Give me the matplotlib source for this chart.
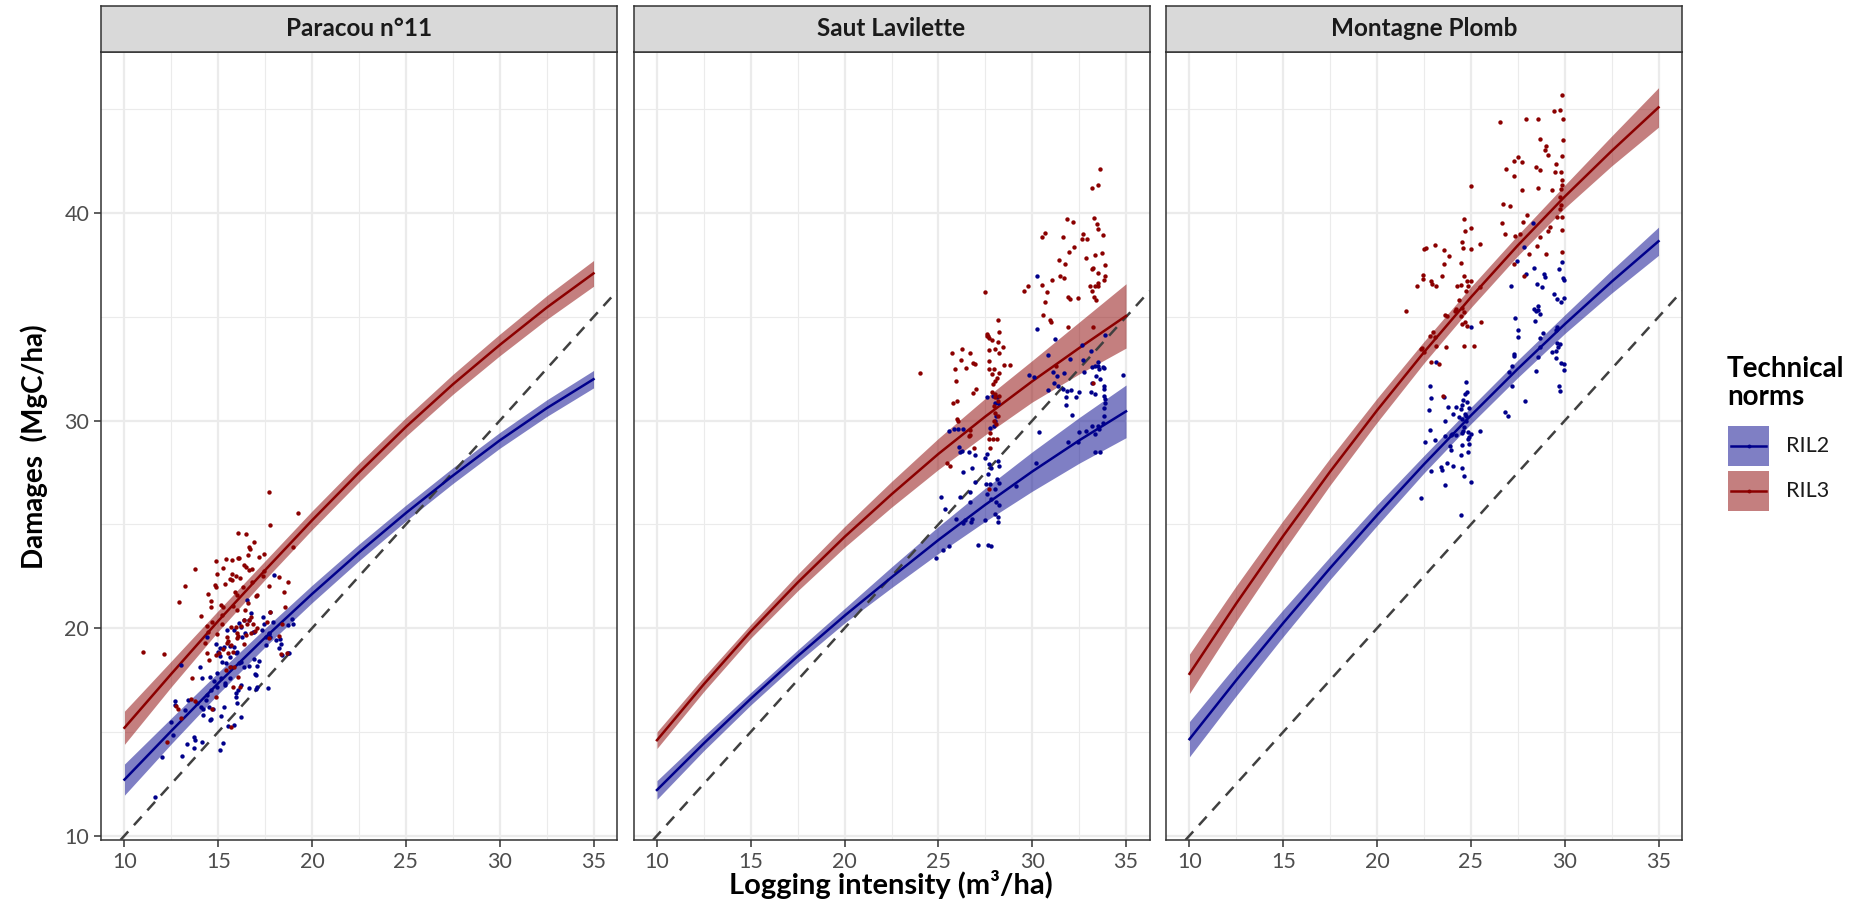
import matplotlib
matplotlib.use("Agg")
import matplotlib.pyplot as plt
from matplotlib.lines import Line2D
from matplotlib.patches import Rectangle

plt.rcParams['font.family'] = ['Lato', 'DejaVu Sans']

# ---------------------------------------------------------------- data
sites = ["Paracou n°11", "Saut Lavilette", "Montagne Plomb"]
norms = ["RIL2", "RIL3"]
norm_colors = {"RIL2": "#00008B", "RIL3": "#8B0000"}

x_ticks = [10, 15, 20, 25, 30, 35]
y_ticks = [10, 20, 30, 40]

# fitted curves (value and half-width of the confidence band) on a common grid
fit_x = [10, 12.5, 15, 17.5, 20, 22.5, 25, 27.5, 30, 32.5, 35]

paracou_ril2_fit = [12.7, 15.05, 17.35, 19.55, 21.65, 23.65, 25.55, 27.35, 29.05, 30.6, 32.0]
paracou_ril2_se = [0.75, 0.62, 0.52, 0.45, 0.42, 0.40, 0.38, 0.38, 0.38, 0.40, 0.42]
paracou_ril3_fit = [15.2, 17.8, 20.35, 22.8, 25.2, 27.5, 29.7, 31.75, 33.65, 35.45, 37.1]
paracou_ril3_se = [0.80, 0.62, 0.50, 0.45, 0.45, 0.45, 0.45, 0.48, 0.52, 0.57, 0.62]

saut_ril2_fit = [12.2, 14.45, 16.6, 18.65, 20.6, 22.45, 24.25, 25.95, 27.55, 29.05, 30.45]
saut_ril2_se = [0.45, 0.35, 0.30, 0.30, 0.35, 0.50, 0.65, 0.80, 0.95, 1.10, 1.27]
saut_ril3_fit = [14.6, 17.3, 19.85, 22.2, 24.4, 26.45, 28.4, 30.2, 31.9, 33.5, 35.05]
saut_ril3_se = [0.40, 0.35, 0.33, 0.40, 0.50, 0.62, 0.75, 0.88, 1.00, 1.25, 1.55]

plomb_ril2_fit = [14.65, 17.5, 20.25, 22.9, 25.45, 27.9, 30.25, 32.5, 34.65, 36.7, 38.65]
plomb_ril2_se = [0.85, 0.75, 0.65, 0.55, 0.50, 0.42, 0.40, 0.42, 0.45, 0.55, 0.68]
plomb_ril3_fit = [17.8, 21.2, 24.45, 27.55, 30.5, 33.3, 35.95, 38.45, 40.8, 43.0, 45.1]
plomb_ril3_se = [0.95, 0.85, 0.75, 0.65, 0.58, 0.52, 0.50, 0.50, 0.55, 0.72, 0.95]

# observed plots: (logging intensity, damages)
paracou_ril2_obs = [
    (17.96, 22.56), (16.54, 21.35), (16.72, 20.71), (17.36, 20.55), (17.78, 20.79), (16.37, 20.39),
    (16.65, 20.39), (16.10, 20.26), (16.19, 20.07), (15.48, 19.91), (15.83, 19.91), (16.42, 19.75),
    (16.84, 19.80), (16.93, 19.83), (17.34, 19.91), (17.44, 20.20), (17.69, 19.78), (17.92, 20.31),
    (18.93, 20.44), (19.00, 20.20), (18.72, 20.15), (14.42, 19.59), (14.86, 19.23), (15.09, 19.06),
    (15.30, 19.11), (15.60, 19.15), (15.83, 19.11), (16.01, 18.87), (15.96, 18.79), (16.24, 19.59),
    (17.52, 19.59), (17.55, 19.19), (17.71, 19.70), (17.78, 19.59), (18.08, 19.43), (18.28, 19.48),
    (18.35, 19.23), (18.21, 19.03), (18.70, 18.82), (18.79, 18.79), (18.40, 18.70), (14.99, 18.87),
    (15.09, 18.66), (15.62, 18.62), (15.22, 18.37), (15.43, 18.33), (15.66, 18.14), (16.10, 18.30),
    (16.37, 18.14), (16.63, 18.17), (16.90, 18.50), (17.16, 18.43), (13.04, 18.22), (14.03, 18.14),
    (14.14, 17.58), (14.54, 17.66), (14.77, 17.45), (14.95, 17.85), (15.16, 17.58), (15.37, 17.34),
    (15.60, 17.58), (16.19, 18.38), (17.07, 18.17), (16.95, 17.79), (17.00, 17.74), (16.05, 17.02),
    (15.96, 16.86), (15.92, 16.70), (16.19, 17.26), (16.65, 17.10), (17.07, 17.18), (17.02, 17.05),
    (17.64, 17.13), (15.37, 17.26), (14.95, 17.15), (14.60, 17.02), (14.38, 16.78), (14.33, 16.54),
    (13.89, 16.38), (14.07, 16.21), (14.17, 16.12), (14.51, 16.18), (14.70, 16.09), (13.36, 16.54),
    (12.72, 16.49), (12.72, 16.30), (13.22, 16.05), (12.47, 15.46), (12.61, 14.85), (13.68, 14.77),
    (13.76, 14.61), (15.32, 16.18), (15.98, 16.38), (14.21, 15.80), (14.60, 15.62), (15.16, 15.78),
    (16.19, 15.73), (15.83, 15.33), (15.52, 15.28), (13.32, 14.42), (14.12, 14.53), (15.27, 14.45),
    (13.09, 13.85), (13.71, 14.21), (15.09, 14.13), (12.00, 13.77), (11.64, 11.88), (14.54, 15.57),
]
paracou_ril3_obs = [
    (17.73, 26.54), (19.23, 25.56), (17.75, 24.97), (16.06, 24.57), (16.49, 24.52), (16.90, 24.13),
    (16.63, 23.89), (16.68, 23.81), (18.98, 23.92), (13.78, 22.83), (14.86, 23.25), (15.41, 23.31),
    (15.75, 23.28), (16.03, 23.36), (16.10, 23.39), (16.56, 23.52), (17.18, 23.41), (17.43, 23.57),
    (15.27, 22.91), (16.38, 23.04), (16.49, 22.96), (16.79, 22.87), (16.65, 22.80), (14.93, 22.61),
    (15.71, 22.61), (15.94, 22.51), (15.62, 22.35), (15.75, 22.32), (16.17, 22.40), (16.81, 22.21),
    (17.44, 22.77), (17.41, 22.51), (18.21, 22.45), (18.74, 22.21), (13.25, 22.05), (14.84, 22.08),
    (14.88, 22.00), (15.37, 22.13), (16.33, 22.00), (17.71, 22.03), (14.47, 21.63), (15.89, 21.72),
    (16.01, 21.60), (17.02, 21.55), (17.09, 21.60), (18.52, 21.74), (12.92, 21.27), (14.63, 21.32),
    (14.63, 21.00), (15.16, 21.11), (15.25, 21.03), (15.76, 21.07), (16.01, 20.87), (16.60, 21.23),
    (18.54, 21.03), (14.07, 20.58), (15.20, 20.63), (16.40, 20.87), (16.72, 20.55), (16.37, 20.39),
    (16.63, 20.39), (14.67, 20.31), (14.40, 20.12), (15.22, 20.18), (15.69, 20.07), (15.94, 20.07),
    (16.19, 20.10), (16.54, 20.20), (16.83, 20.20), (17.04, 20.01), (17.60, 20.31), (14.47, 19.81),
    (14.95, 19.72), (15.48, 19.59), (15.52, 19.40), (15.98, 19.78), (16.06, 19.64), (16.49, 19.68),
    (16.72, 19.77), (16.98, 19.86), (18.40, 20.20), (17.75, 20.79), (15.48, 19.27), (15.66, 19.19),
    (14.28, 19.27), (15.23, 18.98), (15.53, 18.82), (15.06, 18.82), (14.42, 18.82), (14.53, 18.46),
    (14.86, 18.72), (16.37, 19.22), (15.80, 18.85), (15.83, 18.14), (15.62, 18.11), (15.39, 17.98),
    (10.97, 18.87), (12.12, 18.74), (13.62, 17.61), (16.05, 17.66), (15.80, 17.18), (16.14, 17.18),
    (13.53, 16.57), (13.76, 16.47), (12.74, 16.25), (12.83, 16.10), (14.67, 16.12), (13.02, 15.65),
    (12.26, 14.53), (15.66, 15.25), (18.24, 19.64), (18.36, 18.74), (18.67, 18.82), (17.69, 19.51),
    (15.99, 19.51), (14.86, 16.70),
]

saut_ril2_obs = [
    (30.27, 36.95), (30.25, 34.41), (31.21, 33.96), (30.82, 33.17), (32.64, 33.64), (33.14, 33.37),
    (33.88, 34.15), (32.02, 32.96), (32.73, 32.93), (32.78, 32.37), (33.17, 32.61), (33.35, 32.64),
    (33.49, 32.64), (33.53, 32.85), (33.58, 32.48), (33.78, 32.61), (33.83, 32.55), (31.09, 32.35),
    (31.30, 32.16), (31.71, 32.29), (31.40, 31.68), (31.62, 31.55), (30.84, 31.49), (31.14, 31.84),
    (31.85, 31.44), (32.06, 31.47), (32.47, 31.36), (32.31, 31.12), (31.78, 31.12), (31.79, 30.75),
    (33.42, 32.16), (33.62, 32.00), (33.17, 31.84), (33.83, 31.68), (33.85, 31.52), (33.83, 31.20),
    (33.88, 31.04), (33.86, 30.83), (33.83, 30.63), (33.12, 31.39), (33.32, 31.28), (34.82, 32.21),
    (32.11, 30.28), (33.85, 30.23), (33.76, 29.88), (33.49, 29.75), (33.58, 29.62), (33.17, 29.72),
    (32.84, 29.48), (32.50, 29.46), (33.35, 29.35), (31.93, 28.95), (32.43, 28.95), (33.60, 28.51),
    (33.35, 28.47), (30.38, 29.46), (29.85, 32.22), (30.11, 32.10), (27.60, 31.16), (27.90, 31.20),
    (28.10, 31.16), (28.15, 30.87), (27.99, 30.87), (25.57, 29.51), (25.83, 29.59), (26.03, 29.59),
    (26.31, 29.62), (27.74, 29.65), (27.95, 29.72), (28.01, 29.99), (28.06, 30.23), (26.10, 28.74),
    (26.13, 28.47), (26.24, 28.55), (26.63, 28.50), (26.95, 28.34), (26.29, 27.55), (26.80, 27.71),
    (27.46, 28.19), (27.67, 27.90), (27.81, 27.71), (28.17, 28.06), (28.22, 27.80), (27.65, 27.45),
    (27.60, 28.38), (28.10, 27.18), (26.93, 27.05), (27.55, 26.95), (27.74, 26.97), (26.68, 26.54),
    (26.17, 26.33), (25.14, 26.31), (25.35, 25.72), (26.66, 26.09), (27.60, 26.46), (27.80, 26.22),
    (28.01, 26.70), (28.08, 26.06), (28.22, 25.93), (28.03, 25.49), (28.15, 25.37), (28.18, 25.14),
    (26.31, 25.06), (26.80, 25.28), (26.42, 25.20), (26.72, 25.12), (25.92, 25.25), (27.48, 25.22),
    (29.14, 26.86), (30.22, 27.98), (25.55, 23.94), (25.23, 23.77), (24.89, 23.39), (27.12, 24.00),
    (27.65, 24.03), (27.78, 23.97), (28.22, 27.02),
]
saut_ril3_obs = [
    (33.62, 42.12), (33.53, 41.37), (33.21, 41.22), (31.85, 39.74), (32.17, 39.58), (33.28, 39.76),
    (33.47, 39.47), (33.53, 39.23), (33.78, 38.96), (30.66, 39.07), (30.52, 38.87), (31.65, 38.87),
    (32.70, 38.99), (32.66, 38.78), (32.93, 38.78), (32.24, 38.35), (31.97, 38.15), (32.84, 37.86),
    (33.32, 37.97), (33.70, 38.10), (31.42, 37.73), (31.76, 37.54), (33.86, 37.49), (33.24, 37.38),
    (33.21, 37.30), (33.53, 37.14), (33.86, 36.98), (33.85, 36.79), (31.46, 36.98), (31.67, 36.88),
    (31.07, 36.79), (29.78, 36.50), (29.55, 36.24), (30.52, 36.55), (30.77, 36.21), (33.49, 36.63),
    (33.49, 36.47), (33.32, 36.47), (33.10, 36.47), (33.17, 36.26), (33.28, 35.97), (33.42, 35.81),
    (31.90, 35.98), (32.01, 35.85), (32.43, 35.93), (30.66, 35.73), (27.49, 36.18), (30.56, 35.10),
    (30.96, 34.84), (31.02, 34.76), (31.92, 34.52), (33.26, 34.52), (28.20, 34.86), (27.60, 34.17),
    (27.65, 34.06), (27.72, 33.98), (27.83, 33.88), (27.57, 34.09), (28.24, 34.26), (28.20, 33.80),
    (28.45, 33.56), (27.72, 33.41), (28.01, 33.45), (28.22, 33.25), (25.74, 33.28), (26.24, 33.45),
    (26.68, 33.28), (26.84, 32.80), (26.95, 32.72), (26.19, 32.93), (26.45, 32.53), (25.87, 32.47),
    (25.96, 31.93), (25.78, 30.86), (25.97, 30.96), (26.98, 31.52), (26.84, 31.33), (27.67, 32.88),
    (27.71, 32.50), (27.83, 32.27), (27.95, 32.48), (28.22, 32.29), (28.10, 32.08), (27.99, 31.89),
    (27.92, 31.76), (27.87, 31.39), (28.04, 31.28), (28.22, 31.20), (27.99, 31.12), (28.18, 30.95),
    (27.95, 30.71), (28.04, 30.39), (28.18, 30.23), (27.95, 29.99), (28.08, 29.83), (25.99, 30.10),
    (26.03, 29.99), (26.66, 29.56), (26.66, 29.32), (24.04, 32.30), (28.80, 32.67), (28.47, 32.67),
    (31.26, 32.64), (33.24, 31.84), (27.76, 29.43), (27.90, 29.11), (27.69, 29.11), (28.10, 29.11),
    (27.76, 28.66), (26.88, 28.67), (25.44, 27.95), (25.64, 27.82), (27.71, 26.73), (26.63, 29.27),
]

plomb_ril2_obs = [
    (28.30, 39.52), (27.81, 38.36), (27.45, 37.72), (28.34, 37.36), (27.93, 37.07), (27.14, 36.48),
    (28.90, 37.07), (28.94, 36.94), (28.50, 36.58), (28.78, 36.43), (29.70, 37.32), (29.88, 37.67),
    (29.93, 36.88), (29.95, 36.79), (29.44, 36.11), (29.58, 35.87), (29.79, 35.74), (29.97, 35.92),
    (28.37, 35.39), (28.46, 35.27), (28.60, 35.35), (28.68, 35.13), (28.43, 34.81), (28.60, 35.55),
    (27.35, 34.95), (27.52, 34.39), (27.52, 34.02), (28.85, 34.21), (28.68, 33.99), (28.68, 33.54),
    (29.61, 34.50), (29.52, 34.39), (29.61, 33.75), (29.74, 33.70), (29.65, 33.54), (29.56, 33.38),
    (29.31, 33.30), (29.51, 33.01), (28.55, 33.05), (29.79, 32.78), (29.97, 32.73), (29.97, 32.46),
    (28.46, 32.41), (27.28, 33.22), (27.28, 33.14), (27.17, 32.65), (27.01, 32.33), (27.17, 31.69),
    (29.72, 31.66), (29.74, 31.41), (27.86, 30.97), (26.84, 30.40), (26.96, 30.21), (24.99, 34.53),
    (23.14, 32.81), (22.80, 31.69), (22.89, 31.08), (22.75, 30.53), (24.75, 31.85), (24.80, 31.37),
    (24.69, 31.29), (24.59, 31.01), (24.80, 30.89), (24.52, 30.76), (24.92, 30.59), (24.48, 30.56),
    (24.23, 30.64), (24.66, 30.32), (24.75, 30.21), (24.54, 30.08), (24.73, 30.00), (24.36, 30.19),
    (23.56, 31.13), (23.77, 30.66), (24.04, 30.32), (23.60, 30.00), (24.61, 29.68), (24.57, 29.52),
    (25.51, 29.52), (24.87, 29.44), (24.98, 29.36), (24.92, 29.19), (24.84, 29.11), (24.54, 29.39),
    (23.99, 29.36), (24.18, 29.31), (23.92, 29.32), (22.84, 29.56), (22.57, 28.95), (23.10, 29.08),
    (23.63, 29.27), (24.91, 28.87), (24.87, 28.47), (24.52, 28.83), (23.86, 28.79), (23.95, 28.59),
    (24.48, 28.36), (22.85, 27.56), (23.38, 27.78), (23.47, 27.62), (23.72, 27.96), (24.04, 27.83),
    (24.54, 27.70), (24.61, 27.35), (24.98, 27.06), (23.60, 26.89), (22.36, 26.25), (24.48, 25.46),
]
plomb_ril3_obs = [
    (29.84, 45.68), (29.45, 44.95), (29.74, 44.98), (29.91, 44.55), (27.93, 44.55), (28.59, 44.55),
    (26.57, 44.39), (28.69, 43.59), (28.99, 43.26), (28.94, 43.07), (29.91, 43.51), (29.12, 42.81),
    (29.84, 42.78), (27.52, 42.70), (27.28, 42.51), (27.70, 42.46), (29.51, 42.38), (28.48, 42.22),
    (28.69, 42.07), (26.87, 42.11), (29.47, 41.98), (29.81, 41.98), (27.31, 41.79), (29.86, 41.58),
    (29.84, 41.37), (29.79, 41.17), (27.70, 41.13), (28.59, 41.21), (29.31, 41.13), (25.03, 41.30),
    (26.71, 40.45), (27.06, 40.37), (29.74, 40.77), (29.79, 40.40), (29.75, 40.21), (29.83, 39.81),
    (29.58, 39.81), (28.00, 39.89), (27.79, 39.57), (26.66, 39.52), (24.62, 39.73), (24.98, 39.28),
    (24.69, 39.13), (29.19, 39.32), (29.10, 39.16), (29.86, 39.21), (26.82, 39.00), (27.35, 38.92),
    (27.63, 39.00), (28.68, 38.83), (29.84, 38.12), (28.98, 38.05), (28.52, 38.44), (28.11, 38.01),
    (27.28, 37.56), (27.84, 36.96), (22.59, 38.33), (22.50, 38.28), (23.10, 38.49), (23.56, 38.23),
    (23.83, 37.93), (24.52, 38.60), (24.57, 38.33), (25.01, 38.28), (25.46, 38.52), (24.45, 37.60),
    (23.56, 37.53), (24.62, 36.99), (22.46, 37.04), (22.46, 36.83), (22.89, 36.75), (22.94, 36.61),
    (23.16, 36.48), (23.47, 36.99), (22.11, 36.51), (24.27, 36.48), (24.48, 36.54), (24.80, 36.75),
    (24.98, 36.72), (24.84, 36.51), (25.51, 36.43), (24.73, 36.24), (24.39, 35.84), (24.22, 35.39),
    (24.13, 35.30), (24.54, 35.42), (24.62, 35.23), (24.48, 35.06), (23.63, 35.11), (23.74, 35.06),
    (24.66, 34.74), (24.80, 34.58), (24.55, 34.66), (25.54, 34.77), (21.54, 35.30), (22.98, 34.26),
    (23.10, 34.02), (22.80, 34.07), (22.39, 33.49), (22.50, 33.30), (23.16, 33.62), (23.65, 33.57),
    (24.62, 33.62), (25.15, 33.62), (22.85, 32.81), (23.30, 32.73), (23.53, 31.17), (22.32, 33.46),
]

panel_fits = [
    {"RIL2": (paracou_ril2_fit, paracou_ril2_se), "RIL3": (paracou_ril3_fit, paracou_ril3_se)},
    {"RIL2": (saut_ril2_fit, saut_ril2_se), "RIL3": (saut_ril3_fit, saut_ril3_se)},
    {"RIL2": (plomb_ril2_fit, plomb_ril2_se), "RIL3": (plomb_ril3_fit, plomb_ril3_se)},
]
panel_obs = [
    {"RIL2": paracou_ril2_obs, "RIL3": paracou_ril3_obs},
    {"RIL2": saut_ril2_obs, "RIL3": saut_ril3_obs},
    {"RIL2": plomb_ril2_obs, "RIL3": plomb_ril3_obs},
]

# ---------------------------------------------------------------- layout
W, H = 1860, 913
fig = plt.figure(figsize=(W / 100, H / 100), dpi=100)
fig.patch.set_facecolor("white")


def px_axes(left, top, right, bottom):
    return fig.add_axes([left / W, 1 - bottom / H, (right - left) / W, (bottom - top) / H])


panel_lr = [(101, 617), (633.5, 1149.5), (1166, 1682)]
PANEL_TOP, PANEL_BOTTOM, STRIP_TOP = 52, 840, 6
FRAME = "#333333"
GRID = "#EBEBEB"
TICK_TEXT = "#4D4D4D"

for k, (site, (left, right)) in enumerate(zip(sites, panel_lr)):
    ax = px_axes(left, PANEL_TOP, right, PANEL_BOTTOM)
    ax.set_xlim(8.75, 36.25)
    ax.set_ylim(9.79, 47.77)
    ax.set_xticks(x_ticks)
    ax.set_xticks([12.5, 17.5, 22.5, 27.5, 32.5], minor=True)
    ax.set_yticks(y_ticks)
    ax.set_yticks([15, 25, 35, 45], minor=True)
    ax.set_axisbelow(True)
    ax.grid(which="major", color=GRID, lw=1.6)
    ax.grid(which="minor", color=GRID, lw=0.8)
    for sp in ax.spines.values():
        sp.set_color(FRAME)
        sp.set_linewidth(1.1)
    ax.tick_params(which="major", length=5, width=1.1, color=FRAME,
                   labelsize=15.5, labelcolor=TICK_TEXT, pad=3.5)
    ax.tick_params(which="minor", length=0)
    if k > 0:
        ax.tick_params(axis="y", which="both", left=False, labelleft=False)

    fx = fit_x
    for norm in norms:
        fit, se = panel_fits[k][norm]
        lo = [f - s for f, s in zip(fit, se)]
        hi = [f + s for f, s in zip(fit, se)]
        ax.fill_between(fx, lo, hi, color=norm_colors[norm], alpha=0.5, lw=0, zorder=2)

    # 1:1 reference line
    ax.axline((10, 10), slope=1, color="#404040", lw=1.8,
              linestyle=(0, (4.6, 3.4)), zorder=3)

    for norm in norms:
        fit, _ = panel_fits[k][norm]
        ax.plot(fx, fit, color=norm_colors[norm], lw=1.8, zorder=4,
                solid_joinstyle="round")
        obs = panel_obs[k][norm]
        ax.scatter([p[0] for p in obs], [p[1] for p in obs], s=10,
                   color=norm_colors[norm], linewidths=0, zorder=5)

    # facet strip
    sx = px_axes(left, STRIP_TOP, right, PANEL_TOP)
    sx.set_facecolor("#D9D9D9")
    sx.set_xticks([])
    sx.set_yticks([])
    for sp in sx.spines.values():
        sp.set_color(FRAME)
        sp.set_linewidth(1.1)
    sx.text(0.5, 0.5, site, transform=sx.transAxes, ha="center", va="center",
            fontsize=17.5, fontweight="bold", color="#1A1A1A")

# axis titles
fig.text(891 / W, 1 - 884 / H, "Logging intensity (m³/ha)", ha="center", va="center",
         fontsize=21, fontweight="bold", color="black")
fig.text(34 / W, 1 - 447 / H, "Damages  (MgC/ha)", ha="center", va="center",
         rotation=90, fontsize=20, fontweight="bold", color="black")

# legend
fig.text(1727 / W, 1 - 377 / H, "Technical", ha="left", va="baseline",
         fontsize=20, fontweight="bold", color="black")
fig.text(1727 / W, 1 - 405 / H, "norms", ha="left", va="baseline",
         fontsize=20, fontweight="bold", color="black")
for i, norm in enumerate(norms):
    top = 426 + i * 45
    cy = 1 - (top + 20) / H
    fig.add_artist(Rectangle((1728 / W, 1 - (top + 40) / H), 41 / W, 40 / H,
                             transform=fig.transFigure, facecolor=norm_colors[norm],
                             alpha=0.5, edgecolor="none"))
    fig.add_artist(Line2D([1731 / W, 1766 / W], [cy, cy], transform=fig.transFigure,
                          color=norm_colors[norm], lw=1.8))
    fig.add_artist(Line2D([1748.5 / W], [cy], transform=fig.transFigure, marker="o",
                          ms=2.8, mew=0, color=norm_colors[norm]))
    fig.text(1786 / W, cy, norm, ha="left", va="center", fontsize=15.5,
             color="#1A1A1A")

fig.savefig("out.png", dpi=100)
